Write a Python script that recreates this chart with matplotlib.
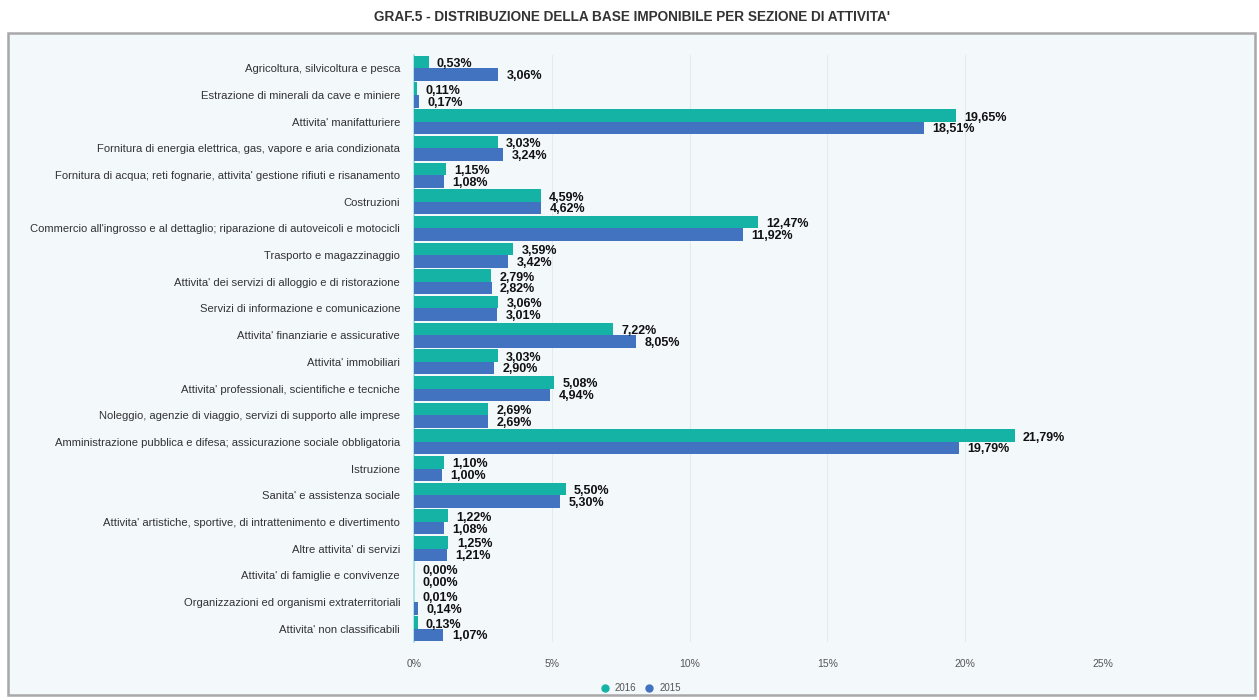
import matplotlib.pyplot as plt
import numpy as np
from matplotlib.patches import Rectangle
from matplotlib.lines import Line2D

plt.rcParams["font.family"] = ["Liberation Sans", "DejaVu Sans"]

categories = [
    "Agricoltura, silvicoltura e pesca",
    "Estrazione di minerali da cave e miniere",
    "Attivita' manifatturiere",
    "Fornitura di energia elettrica, gas, vapore e aria condizionata",
    "Fornitura di acqua; reti fognarie, attivita' gestione rifiuti e risanamento",
    "Costruzioni",
    "Commercio all'ingrosso e al dettaglio; riparazione di autoveicoli e motocicli",
    "Trasporto e magazzinaggio",
    "Attivita' dei servizi di alloggio e di ristorazione",
    "Servizi di informazione e comunicazione",
    "Attivita' finanziarie e assicurative",
    "Attivita' immobiliari",
    "Attivita' professionali, scientifiche e tecniche",
    "Noleggio, agenzie di viaggio, servizi di supporto alle imprese",
    "Amministrazione pubblica e difesa; assicurazione sociale obbligatoria",
    "Istruzione",
    "Sanita' e assistenza sociale",
    "Attivita' artistiche, sportive, di intrattenimento e divertimento",
    "Altre attivita' di servizi",
    "Attivita' di famiglie e convivenze",
    "Organizzazioni ed organismi extraterritoriali",
    "Attivita' non classificabili",
]
v2016 = [0.53, 0.11, 19.65, 3.03, 1.15, 4.59, 12.47, 3.59, 2.79, 3.06, 7.22,
         3.03, 5.08, 2.69, 21.79, 1.10, 5.50, 1.22, 1.25, 0.00, 0.01, 0.13]
v2015 = [3.06, 0.17, 18.51, 3.24, 1.08, 4.62, 11.92, 3.42, 2.82, 3.01, 8.05,
         2.90, 4.94, 2.69, 19.79, 1.00, 5.30, 1.08, 1.21, 0.00, 0.14, 1.07]
years = ["2016", "2015"]
xticks = [0, 5, 10, 15, 20, 25]

TEAL = "#14b3a6"
BLUE = "#4273c0"
W, H = 1259, 700

fig = plt.figure(figsize=(W / 100, H / 100), dpi=100)
fig.patch.set_facecolor("white")

# framed panel behind the chart
panel = Rectangle((8 / W, 5 / H), 1247 / W, 662 / H, transform=fig.transFigure,
                  facecolor="#f3f8fb", edgecolor="#a8a8a8", linewidth=1.8,
                  zorder=-10)
fig.patches.append(panel)

fig.text(632 / W, 1 - 17 / H,
         "GRAF.5 - DISTRIBUZIONE DELLA BASE IMPONIBILE PER SEZIONE DI ATTIVITA'",
         ha="center", va="center", fontsize=9.8, fontweight="bold",
         color="#333333")

ax = fig.add_axes([414 / W, 1 - 642 / H, (1103 - 414) / W, (642 - 55) / H])
ax.set_facecolor("none")

y = np.arange(len(categories))
h = 0.47
ax.barh(y - h / 2, v2016, height=h, color=TEAL, zorder=3)
ax.barh(y + h / 2, v2015, height=h, color=BLUE, zorder=3)

for yi, a, b in zip(y, v2016, v2015):
    for val, off in ((a, -h / 2 + 0.08), (b, h / 2 + 0.05)):
        ax.annotate(f"{val:.2f}%".replace(".", ","), (val, yi + off),
                    xytext=(6, 0), textcoords="offset points",
                    ha="left", va="center", fontsize=9, fontweight="bold",
                    color="#111111")

ax.set_xlim(0, 25)
ax.set_ylim(len(categories) - 0.5, -0.5)
ax.set_yticks(y)
ax.set_yticklabels(categories, fontsize=8.1, color="#333333")
ax.set_xticks(xticks)
ax.set_xticklabels([f"{t}%" for t in xticks], fontsize=7.5, color="#555555")
ax.tick_params(axis="both", length=0)
ax.tick_params(axis="x", pad=12)
ax.tick_params(axis="y", pad=10)
ax.grid(axis="x", color="#e3ebef", linewidth=0.8, zorder=0)
for side in ("top", "right", "bottom"):
    ax.spines[side].set_visible(False)
ax.spines["left"].set_color("#9fe0e6")
ax.spines["left"].set_linewidth(1.2)

handles = [Line2D([], [], marker="o", linestyle="", markersize=5,
                  markerfacecolor=c, markeredgecolor=c) for c in (TEAL, BLUE)]
fig.legend(handles, years, loc="center", bbox_to_anchor=(638 / W, 1 - 688 / H),
           ncol=2, frameon=False, fontsize=7, handletextpad=0.05,
           columnspacing=0.3, labelcolor="#555555")

fig.savefig("out.png", dpi=100)
